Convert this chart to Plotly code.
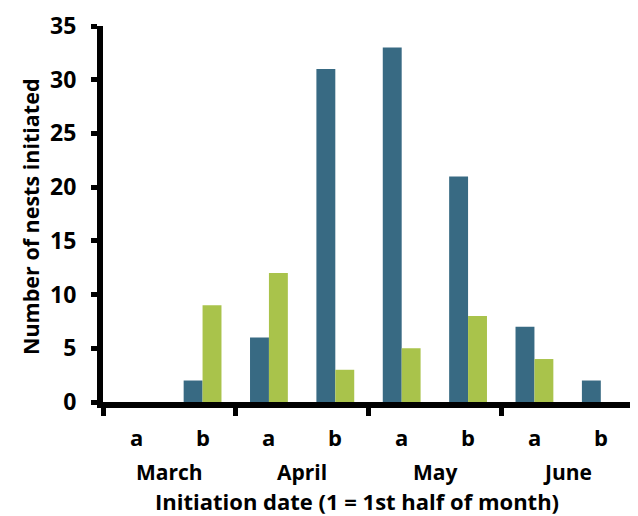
import plotly.graph_objects as go

categories = ["a", "b", "a", "b", "a", "b", "a", "b"]
months = ["March", "April", "May", "June"]
series_blue = [0, 2, 6, 31, 33, 21, 7, 2]
series_green = [0, 9, 12, 3, 5, 8, 4, 0]
y_ticks = [0, 5, 10, 15, 20, 25, 30, 35]

BLUE = "#386a83"
GREEN = "#a9c34b"
FONT = "Open Sans"

xpos = [i + 0.5 for i in range(len(categories))]

fig = go.Figure()
fig.add_bar(x=xpos, y=series_blue, marker=dict(color=BLUE, line=dict(width=0)), name="A")
fig.add_bar(x=xpos, y=series_green, marker=dict(color=GREEN, line=dict(width=0)), name="B")

# figure is offset by the page's 8px body margin
L, T, B, R = 95, 18, 122, 12
PW = 638 - L - R
PH = 516 - T - B
base = 516 - B + 8  # page y of the x axis

for x, t in zip(xpos, categories):
    fig.add_annotation(x=x, y=-(437 - base) / PH, xref="x", yref="paper", text=t,
                       showarrow=False, font=dict(family=FONT, size=22, color="black", weight="bold"),
                       yanchor="middle")
for i, m in enumerate(months):
    fig.add_annotation(x=2 * i + 1, y=-(472 - base) / PH, xref="x", yref="paper", text=m,
                       showarrow=False, font=dict(family=FONT, size=21, color="black", weight="bold"),
                       yanchor="middle")
fig.add_annotation(x=(357 - 8 - L) / PW, y=-(501 - base) / PH, xref="paper", yref="paper",
                   text="Initiation date (1 = 1st half of month)",
                   showarrow=False, font=dict(family=FONT, size=22, color="black", weight="bold"),
                   yanchor="middle")
fig.add_annotation(x=(30 - 8 - L) / PW, y=(base - 217) / PH, xref="paper", yref="paper",
                   text="Number of nests initiated", textangle=-90,
                   showarrow=False, font=dict(family=FONT, size=21.5, color="black", weight="bold"),
                   xanchor="center", yanchor="middle")

fig.update_layout(
    width=638, height=516,
    margin=dict(l=L, r=R, t=T, b=B),
    paper_bgcolor="white", plot_bgcolor="white",
    barmode="group", bargap=0.43, bargroupgap=0,
    showlegend=False,
    font=dict(family=FONT, color="black"),
)
fig.update_xaxes(range=[0, 8], tickvals=[0, 2, 4, 6, 8], ticktext=["", "", "", "", ""],
                 ticks="outside", ticklen=8, tickwidth=5, tickcolor="black",
                 showline=True, linewidth=6, linecolor="black", showgrid=False,
                 zeroline=False, automargin=False)
fig.update_yaxes(range=[0, 35], tickvals=y_ticks,
                 ticks="outside", ticklen=6, tickwidth=5, tickcolor="black",
                 showline=True, linewidth=6, linecolor="black", showgrid=False,
                 zeroline=False, automargin=False, ticklabelstandoff=10,
                 tickfont=dict(family=FONT, size=23, color="black", weight="bold"))

fig.write_html("out.html")
